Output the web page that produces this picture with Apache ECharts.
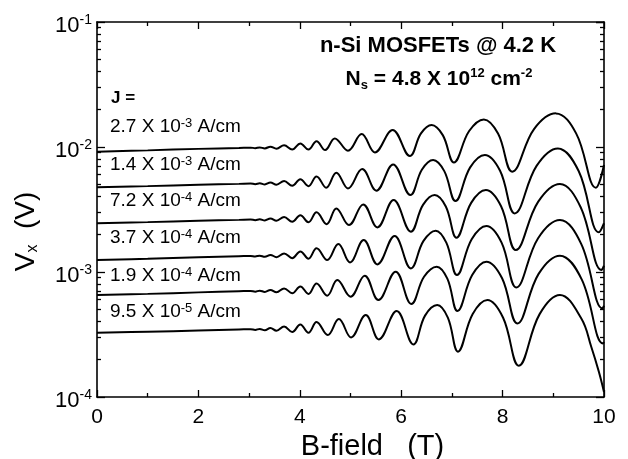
<!DOCTYPE html>
<html><head><meta charset="utf-8">
<script src="https://cdn.jsdelivr.net/npm/echarts@6/dist/echarts.min.js"></script>
<style>html,body{margin:0;padding:0;background:#fff}#c{width:628px;height:459px}</style>
</head><body><div id="c"></div>
<script>
// ---- axis ticks ----
const xTickInterval = 2;
const yMinorTicks = [2e-4,3e-4,4e-4,5e-4,6e-4,7e-4,8e-4,9e-4,
                     2e-3,3e-3,4e-3,5e-3,6e-3,7e-3,8e-3,9e-3,
                     2e-2,3e-2,4e-2,5e-2,6e-2,7e-2,8e-2,9e-2];
// ---- curve labels (current density J) ----
const jMantissa = ['2.7','1.4','7.2','3.7','1.9','9.5'];
const jExponent = ['-3','-3','-4','-4','-4','-5'];
// ---- data: [B (T), log10(Vx / V)] ----
const vxJ1 = [[0,-2.038],[1,-2.027],[2,-2.015],[2.8,-2.008],[3.03,-2.005],[3.12,-2.009],[3.21,-2.003],[3.31,-2.011],[3.42,-1.997],[3.54,-2.013],[3.69,-1.986],[3.85,-2.020],[4.01,-1.971],[4.17,-2.020],[4.33,-1.953],[4.50,-2.024],[4.69,-1.931],[4.95,-2.029],[5.22,-1.896],[5.48,-2.043],[5.83,-1.864],[6.17,-2.072],[6.39,-1.891],[6.60,-1.824],[6.82,-1.905],[7.04,-2.123],[7.34,-1.872],[7.63,-1.779],[7.91,-1.892],[8.19,-2.197],[8.62,-1.857],[9.05,-1.731],[9.45,-1.891],[9.84,-2.325],[10,-2.144]];
const vxJ2 = [[0,-2.322],[1,-2.313],[2,-2.302],[2.8,-2.295],[3.03,-2.292],[3.12,-2.297],[3.21,-2.290],[3.31,-2.299],[3.42,-2.284],[3.54,-2.302],[3.69,-2.272],[3.85,-2.310],[4.01,-2.257],[4.17,-2.313],[4.33,-2.235],[4.52,-2.325],[4.72,-2.205],[4.95,-2.331],[5.23,-2.176],[5.51,-2.349],[5.84,-2.139],[6.18,-2.384],[6.41,-2.180],[6.63,-2.104],[6.85,-2.193],[7.07,-2.432],[7.36,-2.163],[7.65,-2.064],[7.95,-2.190],[8.24,-2.531],[8.67,-2.151],[9.09,-2.011],[9.50,-2.192],[9.90,-2.682],[10,-2.610]];
const vxJ3 = [[0,-2.610],[1,-2.601],[2,-2.590],[2.8,-2.583],[3.03,-2.580],[3.12,-2.585],[3.21,-2.578],[3.31,-2.587],[3.42,-2.572],[3.54,-2.590],[3.69,-2.560],[3.85,-2.598],[4.01,-2.545],[4.17,-2.602],[4.33,-2.522],[4.53,-2.617],[4.72,-2.491],[4.97,-2.624],[5.25,-2.459],[5.53,-2.643],[5.85,-2.424],[6.19,-2.677],[6.43,-2.463],[6.66,-2.384],[6.88,-2.476],[7.09,-2.725],[7.38,-2.447],[7.67,-2.344],[7.97,-2.474],[8.26,-2.824],[8.70,-2.439],[9.13,-2.296],[9.54,-2.482],[9.95,-2.984],[10,-2.950]];
const vxJ4 = [[0,-2.904],[1,-2.894],[2,-2.882],[2.8,-2.874],[3.03,-2.871],[3.12,-2.876],[3.21,-2.869],[3.31,-2.878],[3.42,-2.863],[3.54,-2.881],[3.69,-2.851],[3.85,-2.889],[4.01,-2.835],[4.17,-2.893],[4.33,-2.810],[4.54,-2.904],[4.76,-2.776],[4.99,-2.923],[5.26,-2.744],[5.53,-2.939],[5.87,-2.712],[6.19,-2.971],[6.44,-2.751],[6.68,-2.669],[6.89,-2.765],[7.10,-3.024],[7.39,-2.738],[7.68,-2.632],[7.98,-2.765],[8.27,-3.123],[8.70,-2.730],[9.13,-2.584],[9.55,-2.775],[9.97,-3.291],[10,-3.270]];
const vxJ5 = [[0,-3.184],[1,-3.175],[2,-3.163],[2.8,-3.154],[3.03,-3.151],[3.12,-3.157],[3.21,-3.149],[3.31,-3.159],[3.42,-3.143],[3.54,-3.162],[3.69,-3.131],[3.85,-3.170],[4.01,-3.115],[4.17,-3.175],[4.33,-3.092],[4.54,-3.189],[4.74,-3.064],[5.00,-3.197],[5.28,-3.029],[5.55,-3.224],[5.89,-2.997],[6.20,-3.256],[6.45,-3.038],[6.70,-2.957],[6.91,-3.053],[7.11,-3.312],[7.40,-3.024],[7.68,-2.917],[7.99,-3.050],[8.29,-3.411],[8.71,-3.015],[9.13,-2.869],[9.56,-3.059],[9.98,-3.571],[10,-3.560]];
const vxJ6 = [[0,-3.486],[1,-3.478],[2,-3.468],[2.8,-3.460],[3.03,-3.457],[3.12,-3.464],[3.21,-3.455],[3.31,-3.466],[3.42,-3.448],[3.54,-3.470],[3.69,-3.436],[3.85,-3.480],[4.01,-3.420],[4.17,-3.486],[4.33,-3.400],[4.55,-3.504],[4.77,-3.376],[5.01,-3.523],[5.30,-3.344],[5.56,-3.539],[5.91,-3.312],[6.24,-3.579],[6.47,-3.349],[6.71,-3.264],[6.92,-3.365],[7.12,-3.637],[7.41,-3.336],[7.70,-3.224],[8.01,-3.366],[8.32,-3.749],[8.73,-3.337],[9.13,-3.184],[9.55,-3.370],[9.75,-3.600],[9.90,-3.800],[10,-3.960]];
const curves = [vxJ1, vxJ2, vxJ3, vxJ4, vxJ5, vxJ6];

const FONT = 'Liberation Sans, Arial, sans-serif';
const chart = echarts.init(document.getElementById('c'), null, {renderer:'canvas'});

const tickLine = {color:'#000', width:1.3};
function xAxisCfg(pos, labels){
  return {type:'value', min:0, max:10, interval:xTickInterval, position:pos,
    axisLine:{show:true, onZero:false, lineStyle:{color:'#000', width:1.6}},
    axisTick:{show:true, inside:true, length:7, lineStyle:tickLine},
    minorTick:{show:true, splitNumber:2, length:4, lineStyle:tickLine},
    splitLine:{show:false}, minorSplitLine:{show:false},
    axisLabel:{show:labels, color:'#000', fontSize:21, fontFamily:FONT, margin:10}};
}
function yAxisCfg(pos, minor, labels){
  const a = {type:'log', logBase:10, min:1e-4, max:1e-1, position:pos,
    axisLine:{show:!minor, onZero:false, lineStyle:{color:'#000', width:1.6}},
    axisTick:{show:true, inside:true, length:minor?4:8, lineStyle:tickLine},
    splitLine:{show:false},
    axisLabel:{show:labels, color:'#000', fontFamily:FONT, margin:5, padding:[7,0,0,0],
      formatter: v => '{b|10}{s|' + Math.round(Math.log10(v)) + '}',
      rich:{b:{fontSize:22, fontFamily:FONT, color:'#000', lineHeight:24},
            s:{fontSize:14, fontFamily:FONT, color:'#000', verticalAlign:'top', lineHeight:14}}}};
  if (minor) a.axisTick.customValues = yMinorTicks;
  return a;
}
const yMain = yAxisCfg('left', false, true);
yMain.name = '{v|V}{x|x}{v|  (V)}';
yMain.nameLocation = 'middle';
yMain.nameRotate = 90;
yMain.nameGap = 56;
yMain.nameTextStyle = {color:'#000', fontFamily:FONT, padding:[0, 44, 0, 0],
  rich:{v:{fontSize:28, fontFamily:FONT, color:'#000', lineHeight:30},
        x:{fontSize:16, fontFamily:FONT, color:'#000', verticalAlign:'bottom', lineHeight:16}}};

const xMain = xAxisCfg('bottom', true);
xMain.name = 'B-field   (T)';
xMain.nameLocation = 'middle';
xMain.nameGap = 32;
xMain.nameTextStyle = {color:'#000', fontFamily:FONT, fontSize:29, padding:[0, 0, 0, 44], verticalAlign:'top'};

const labelY = [127, 165, 201, 238, 276, 312];
const graphics = [
  {type:'text', x:438, y:46, style:{text:'n-Si MOSFETs @ 4.2 K', fill:'#000', font:'bold 22px ' + FONT, align:'center', verticalAlign:'middle'}},
  {type:'text', x:439, y:79, style:{text:'{b|N}{sub|s}{b| = 4.8 X 10}{sup|12}{b| cm}{sup|-2}', fill:'#000', align:'center', verticalAlign:'middle',
     rich:{b:{font:'bold 21px ' + FONT, fill:'#000', lineHeight:25},
           sub:{font:'bold 13px ' + FONT, fill:'#000', verticalAlign:'bottom', lineHeight:13},
           sup:{font:'bold 13px ' + FONT, fill:'#000', verticalAlign:'top', lineHeight:13}}}},
  {type:'text', x:111, y:98, style:{text:'J =', fill:'#000', font:'bold 17px ' + FONT, align:'left', verticalAlign:'middle'}}
];
jMantissa.forEach((m, i) => {
  graphics.push({type:'text', x:110, y:labelY[i], style:{
    text:'{n|' + m + ' X 10}{s|' + jExponent[i] + '}{n| A/cm}', fill:'#000', align:'left', verticalAlign:'middle',
    rich:{n:{font:'19px ' + FONT, fill:'#000', lineHeight:21},
          s:{font:'13px ' + FONT, fill:'#000', verticalAlign:'top', lineHeight:12}}}});
});

chart.setOption({
  animation:false,
  backgroundColor:'#fff',
  grid:{left:97, right:24, top:22, bottom:62, containLabel:false, outerBoundsMode:'none'},
  xAxis:[xMain, xAxisCfg('top', false)],
  yAxis:[yMain, yAxisCfg('left', true, false), yAxisCfg('right', false, false), yAxisCfg('right', true, false)],
  series: curves.map(c => ({type:'line', xAxisIndex:0, yAxisIndex:0, showSymbol:false, smooth:0.4,
    lineStyle:{color:'#000', width:2}, data: c.map(p => [p[0], Math.pow(10, p[1])])})),
  graphic: graphics
});
</script></body></html>
